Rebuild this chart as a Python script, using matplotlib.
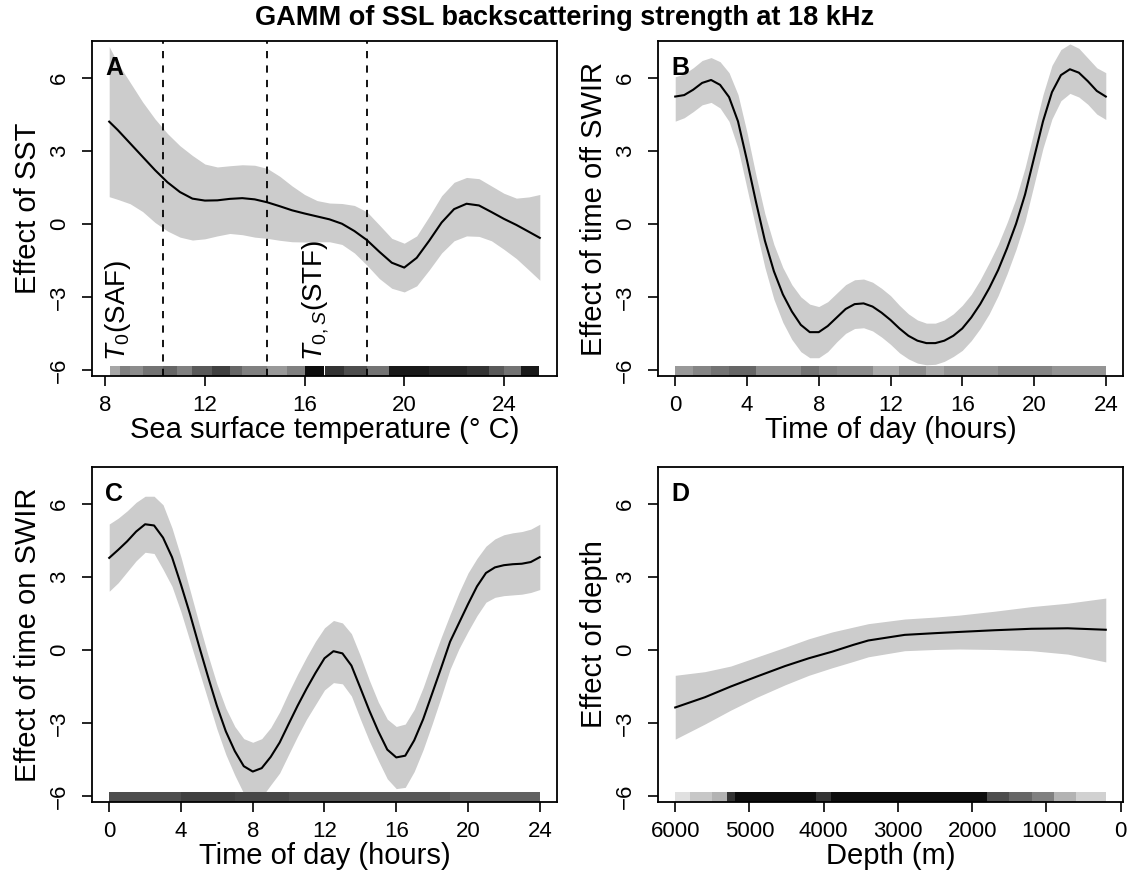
import matplotlib
matplotlib.use("Agg")
import matplotlib.pyplot as plt

plt.rcParams['font.family'] = ['Liberation Sans', 'DejaVu Sans']
plt.rcParams['mathtext.fontset'] = 'custom'
plt.rcParams['mathtext.rm'] = 'Liberation Sans'
plt.rcParams['mathtext.it'] = 'Liberation Sans:italic'

# --- Panel A: SST ---
sst_x = [8.16, 8.5, 9.0, 9.5, 10.0, 10.5, 11.0, 11.5, 12.0, 12.5, 13.0, 13.5, 14.0, 14.5, 15.0, 15.5, 16.0, 16.5,
         17.0, 17.5, 18.0, 18.5, 19.0, 19.5, 20.0, 20.5, 21.0, 21.5, 22.0, 22.5, 23.0, 23.5, 24.0, 24.5, 25.0, 25.44]
sst_fit = [4.19, 3.85, 3.3, 2.75, 2.2, 1.7, 1.3, 1.03, 0.95, 0.96, 1.02, 1.05, 1.0, 0.88, 0.72, 0.55, 0.42, 0.3,
           0.18, 0.0, -0.3, -0.67, -1.15, -1.6, -1.8, -1.4, -0.7, 0.05, 0.6, 0.82, 0.75, 0.48, 0.2, -0.05, -0.33, -0.58]
sst_up = [7.27, 6.6, 5.8, 5.0, 4.3, 3.7, 3.2, 2.8, 2.45, 2.33, 2.38, 2.42, 2.4, 2.27, 1.95, 1.55, 1.2, 0.95,
          0.85, 0.83, 0.75, 0.49, -0.05, -0.6, -0.8, -0.5, 0.3, 1.15, 1.7, 1.9, 1.85, 1.55, 1.25, 1.05, 1.1, 1.2]
sst_lo = [1.11, 1.0, 0.82, 0.5, 0.05, -0.3, -0.55, -0.67, -0.62, -0.5, -0.4, -0.45, -0.55, -0.6, -0.68, -0.74, -0.75, -0.74,
          -0.74, -0.85, -1.2, -1.7, -2.25, -2.65, -2.8, -2.55, -1.9, -1.2, -0.7, -0.5, -0.52, -0.7, -1.05, -1.43, -1.9, -2.32]
front_sst = [10.3, 14.5, 18.5]
rug_a_start = [8.2, 8.6, 9.0, 9.5, 10.3, 10.9, 11.5, 12.3, 13.0, 13.5, 14.5, 15.3, 16.0, 16.8, 17.6, 18.5, 19.4, 21.0,
               22.5, 23.4, 24.0, 24.7]
rug_a_end = [8.6, 9.0, 9.5, 10.3, 10.9, 11.5, 12.3, 13.0, 13.5, 14.5, 15.3, 16.0, 16.8, 17.6, 18.5, 19.4, 21.0, 22.5,
             23.4, 24.0, 24.7, 25.4]
rug_a_shade = [0.35, 0.5, 0.45, 0.55, 0.6, 0.5, 0.65, 0.75, 0.6, 0.5, 0.4, 0.5, 0.95, 0.8, 0.7, 0.55, 0.9, 0.85,
               0.8, 0.65, 0.55, 0.9]

# --- Panels B and C: time of day ---
hours = [0, 0.5, 1, 1.5, 2, 2.5, 3, 3.5, 4, 4.5, 5, 5.5, 6, 6.5, 7, 7.5, 8, 8.5, 9, 9.5, 10, 10.5, 11, 11.5,
         12, 12.5, 13, 13.5, 14, 14.5, 15, 15.5, 16, 16.5, 17, 17.5, 18, 18.5, 19, 19.5, 20, 20.5, 21, 21.5,
         22, 22.5, 23, 23.5, 24]
off_fit = [5.22, 5.28, 5.5, 5.78, 5.9, 5.7, 5.2, 4.2, 2.6, 0.9, -0.7, -1.95, -2.9, -3.6, -4.15, -4.45, -4.45, -4.2,
           -3.85, -3.5, -3.3, -3.27, -3.4, -3.65, -3.95, -4.3, -4.6, -4.8, -4.9, -4.9, -4.8, -4.6, -4.3, -3.85,
           -3.3, -2.65, -1.9, -1.0, 0.0, 1.2, 2.7, 4.2, 5.4, 6.1, 6.34, 6.2, 5.85, 5.45, 5.22]
off_up = [6.03, 6.15, 6.4, 6.7, 6.82, 6.65, 6.2, 5.3, 3.75, 2.0, 0.4, -0.85, -1.8, -2.5, -3.0, -3.3, -3.4, -3.2,
          -2.85, -2.5, -2.3, -2.27, -2.4, -2.65, -2.95, -3.35, -3.7, -3.95, -4.08, -4.08, -3.95, -3.7, -3.35, -2.9,
          -2.3, -1.6, -0.85, 0.05, 1.05, 2.3, 3.8, 5.3, 6.5, 7.15, 7.38, 7.2, 6.8, 6.4, 6.2]
off_lo = [4.21, 4.35, 4.6, 4.88, 4.98, 4.75, 4.2, 3.1, 1.45, -0.2, -1.8, -3.1, -4.05, -4.75, -5.25, -5.5, -5.5, -5.25,
          -4.85, -4.5, -4.3, -4.27, -4.4, -4.65, -4.95, -5.3, -5.55, -5.72, -5.79, -5.77, -5.65, -5.45, -5.2, -4.8,
          -4.3, -3.7, -2.95, -2.05, -1.05, 0.1, 1.6, 3.1, 4.3, 5.05, 5.35, 5.2, 4.9, 4.5, 4.28]
rug_b_start = [0, 1, 2, 3, 4.5, 7, 8, 9, 11, 12.5, 14, 15, 18, 21]
rug_b_end = [1, 2, 3, 4.5, 7, 8, 9, 11, 12.5, 14, 15, 18, 21, 24]
rug_b_shade = [0.4, 0.48, 0.55, 0.6, 0.45, 0.55, 0.48, 0.45, 0.33, 0.45, 0.35, 0.42, 0.48, 0.42]

on_fit = [3.77, 4.1, 4.45, 4.85, 5.15, 5.1, 4.6, 3.8, 2.67, 1.47, 0.17, -1.09, -2.3, -3.35, -4.16, -4.78, -5.0, -4.86,
          -4.4, -3.81, -3.05, -2.3, -1.6, -0.95, -0.35, -0.06, -0.15, -0.65, -1.57, -2.5, -3.35, -4.1, -4.42, -4.35,
          -3.72, -2.85, -1.8, -0.75, 0.33, 1.1, 1.87, 2.6, 3.15, 3.38, 3.47, 3.51, 3.53, 3.6, 3.8]
on_up = [5.16, 5.4, 5.7, 6.05, 6.3, 6.3, 5.95, 5.0, 3.8, 2.45, 1.1, -0.2, -1.4, -2.4, -3.15, -3.65, -3.8, -3.65,
         -3.2, -2.55, -1.75, -1.0, -0.3, 0.35, 0.9, 1.2, 1.1, 0.66, -0.25, -1.25, -2.15, -2.85, -3.15, -3.05,
         -2.45, -1.55, -0.5, 0.5, 1.45, 2.35, 3.15, 3.75, 4.25, 4.55, 4.72, 4.8, 4.85, 4.95, 5.15]
on_lo = [2.4, 2.75, 3.2, 3.65, 4.0, 3.95, 3.3, 2.6, 1.55, 0.35, -0.85, -2.05, -3.25, -4.3, -5.15, -5.9, -6.15, -6.05,
         -5.55, -5.06, -4.3, -3.55, -2.85, -2.25, -1.65, -1.35, -1.4, -1.9, -2.85, -3.75, -4.55, -5.3, -5.7, -5.65,
         -5.0, -4.1, -3.05, -1.95, -0.8, 0.05, 0.75, 1.4, 1.95, 2.15, 2.22, 2.25, 2.28, 2.35, 2.47]
rug_c_start = [0, 4, 7, 10, 14, 19]
rug_c_end = [4, 7, 10, 14, 19, 24]
rug_c_shade = [0.7, 0.75, 0.72, 0.68, 0.66, 0.62]

# --- Panel D: depth ---
depth = [6000, 5600, 5252, 4900, 4520, 4200, 3886, 3600, 3398, 2909, 2500, 2177, 1700, 1200, 712, 200]
depth_fit = [-2.37, -1.95, -1.51, -1.1, -0.67, -0.35, -0.08, 0.2, 0.38, 0.61, 0.68, 0.73, 0.8, 0.86, 0.88, 0.82]
depth_up = [-1.05, -0.9, -0.67, -0.3, 0.10, 0.45, 0.73, 0.93, 1.07, 1.26, 1.34, 1.42, 1.58, 1.77, 1.91, 2.12]
depth_lo = [-3.67, -3.05, -2.48, -1.95, -1.44, -1.05, -0.74, -0.48, -0.29, -0.04, 0.01, 0.03, 0.01, -0.04, -0.18, -0.5]
rug_d_start = [6000, 5800, 5500, 5300, 5200, 4100, 3900, 1800, 1500, 1200, 900, 600]
rug_d_end = [5800, 5500, 5300, 5200, 4100, 3900, 1800, 1500, 1200, 900, 600, 200]
rug_d_shade = [0.12, 0.22, 0.3, 0.8, 0.95, 0.8, 0.95, 0.7, 0.6, 0.5, 0.3, 0.18]

band_col = '#CCCCCC'
tick_fs = 16
lab_fs = 21

fig = plt.figure(figsize=(11.3, 8.82), dpi=100)
pos = {'A': [92, 41], 'B': [658, 41], 'C': [92, 467], 'D': [658, 467]}
W, H = 1130.0, 882.0
axes = {}
for k, (l, t) in pos.items():
    axes[k] = fig.add_axes([l / W, 1 - (t + 335) / H, 465 / W, 335 / H])


def style(ax, letter, xlabel, ylabel, xlim, xticks):
    ax.set_xlim(*xlim)
    ax.set_ylim(-6.25, 7.5)
    ax.set_xticks(xticks)
    ax.set_yticks([-6, -3, 0, 3, 6])
    ax.tick_params(direction='out', length=7, width=1.2, labelsize=tick_fs)
    ax.tick_params(axis='x', pad=7)
    ax.tick_params(axis='y', pad=9)
    for lab in ax.get_yticklabels():
        lab.set_rotation(90)
        lab.set_va('center')
    for s in ax.spines.values():
        s.set_linewidth(1.3)
    ax.set_xlabel(xlabel, fontsize=lab_fs, labelpad=0)
    ax.set_ylabel(ylabel, fontsize=lab_fs, labelpad=5)
    ax.text(0.028, 0.92, letter, transform=ax.transAxes, fontsize=18,
            fontweight='bold', ha='left', va='center')


def rug(ax, starts, ends, shades):
    for a, b, s in zip(starts, ends, shades):
        ax.axvspan(a, b, ymin=0, ymax=0.03, color=str(1 - s), lw=0)


# A
ax = axes['A']
ax.fill_between(sst_x, sst_lo, sst_up, color=band_col, lw=0)
ax.plot(sst_x, sst_fit, color='k', lw=1.5)
for f in front_sst:
    ax.axvline(f, color='k', ls=(0, (4, 4)), lw=1.3)
rug(ax, rug_a_start, rug_a_end, rug_a_shade)
ax.text(8.5, -5.64, r'$T_0$(SAF)', rotation=90, fontsize=20, ha='center', va='bottom')
ax.text(16.44, -5.64, r'$T_{0,S}$(STF)', rotation=90, fontsize=20, ha='center', va='bottom')
style(ax, 'A', 'Sea surface temperature (° C)', 'Effect of SST', (7.47, 26.13), [8, 12, 16, 20, 24])

# B
ax = axes['B']
ax.fill_between(hours, off_lo, off_up, color=band_col, lw=0)
ax.plot(hours, off_fit, color='k', lw=1.5)
rug(ax, rug_b_start, rug_b_end, rug_b_shade)
style(ax, 'B', 'Time of day (hours)', 'Effect of time off SWIR', (-0.96, 24.96), [0, 4, 8, 12, 16, 20, 24])

# C
ax = axes['C']
ax.fill_between(hours, on_lo, on_up, color=band_col, lw=0)
ax.plot(hours, on_fit, color='k', lw=1.5)
rug(ax, rug_c_start, rug_c_end, rug_c_shade)
style(ax, 'C', 'Time of day (hours)', 'Effect of time on SWIR', (-0.96, 24.96), [0, 4, 8, 12, 16, 20, 24])

# D
ax = axes['D']
ax.fill_between(depth, depth_lo, depth_up, color=band_col, lw=0)
ax.plot(depth, depth_fit, color='k', lw=1.5)
rug(ax, rug_d_start, rug_d_end, rug_d_shade)
style(ax, 'D', 'Depth (m)', 'Effect of depth', (6232, -32), [6000, 5000, 4000, 3000, 2000, 1000, 0])

fig.text(0.5, 1 - 18 / H, 'GAMM of SSL backscattering strength at 18 kHz',
         ha='center', va='center', fontsize=19.5, fontweight='bold')

fig.savefig('out.png', dpi=100)
